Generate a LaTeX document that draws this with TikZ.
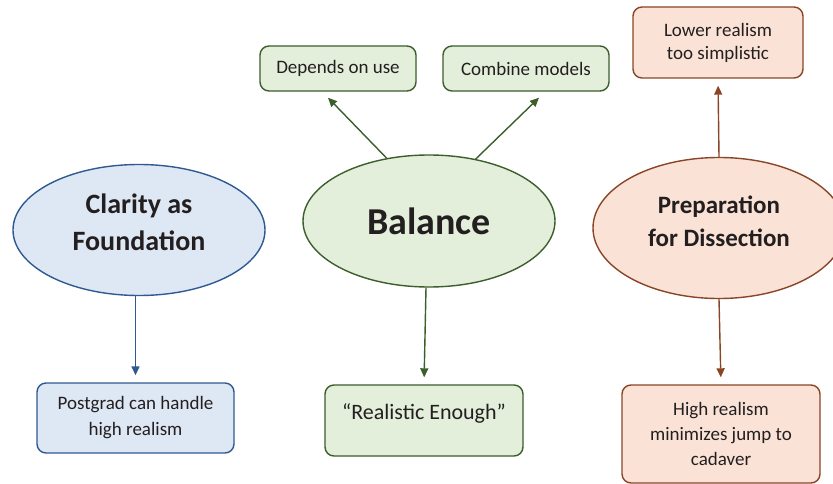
\documentclass[tikz,border=0pt]{standalone}
\usepackage{fontspec}
\setmainfont{Carlito}
\usetikzlibrary{shapes.geometric,arrows.meta,calc}
\definecolor{bfill}{HTML}{DEE7F4}
\definecolor{bline}{HTML}{2F5A91}
\definecolor{gfill}{HTML}{E3EFDA}
\definecolor{gline}{HTML}{3B5E2B}
\definecolor{ofill}{HTML}{FAE3D6}
\definecolor{oline}{HTML}{8A4526}
\definecolor{txt}{HTML}{231F20}
\tikzset{
  oval/.style={ellipse, draw, line width=1.4pt, inner sep=0pt, align=center, text=txt, font=\bfseries},
  rbox/.style={rectangle, rounded corners=9pt, draw, line width=1.4pt, inner sep=0pt, align=center, text=txt},
  arr/.style={line width=1.4pt, -{Triangle[length=9pt,width=8pt]}, shorten >=7pt},
  blue/.style={fill=bfill, draw=bline},
  green/.style={fill=gfill, draw=gline},
  orange/.style={fill=ofill, draw=oline},
  lbl/.style={text=txt, inner sep=0pt, align=center}
}
\begin{document}
\begin{tikzpicture}[x=1pt,y=-1pt]
\useasboundingbox (0,0) rectangle (833,484);
\clip (0,0) rectangle (833,484);
% ellipses
\node[oval, blue, minimum width=252pt, minimum height=131pt] (clar) at (139,230) {};
\node[lbl, font=\fontsize{28}{37}\selectfont\bfseries] (clarlbl) at ($(clar.center)+(0,-8)$) {Clarity as\\Foundation};
\node[oval, green, minimum width=252pt, minimum height=132pt, font=\fontsize{38}{44}\selectfont\bfseries] (bal) at (429,221) {Balance};
\node[oval, orange, minimum width=252pt, minimum height=141pt] (prep) at (719,228) {};
\node[lbl, font=\fontsize{25}{33}\selectfont\bfseries] (preplbl) at ($(prep.center)+(0,-7)$) {Preparation\\for Dissection};
% boxes
\node[rbox, green, minimum width=156pt, minimum height=45pt, font=\fontsize{19}{23}\selectfont] (dep) at (338,68.5) {Depends on use};
\node[rbox, green, minimum width=166pt, minimum height=45pt, font=\fontsize{19}{23}\selectfont] (comb) at (526,68.5) {Combine models};
\node[rbox, orange, minimum width=170pt, minimum height=71pt, font=\fontsize{19}{23}\selectfont] (lower) at (718,42.5) {Lower realism\\too simplistic};
\node[rbox, blue, minimum width=197pt, minimum height=70pt, font=\fontsize{19}{26}\selectfont] (post) at (135.5,418) {Postgrad can handle\\high realism};
\node[rbox, green, minimum width=198pt, minimum height=71pt] (real) at (424,420.5) {};
\node[lbl, font=\fontsize{22}{26}\selectfont] (reallbl) at ($(real.center)+(0,-7)$) {“Realistic Enough”};
\node[rbox, orange, minimum width=198pt, minimum height=98pt, font=\fontsize{19}{25}\selectfont] (high) at (721,434) {High realism\\minimizes jump to\\cadaver};
% connectors
\draw[arr, bline] (post.north |- clar.south) -- (post.north);
\draw[arr, gline] ($(bal.south)+(-3,0)$) -- (real.north);
\draw[arr, oline] (prep.south) -- (high.north);
\draw[arr, oline] (prep.north) -- (lower.south);
\draw[arr, gline, shorten >=0pt] (bal.124) -- ($(dep.south)+(-10,6)$);
\draw[arr, gline, shorten >=0pt] (bal.53) -- ($(comb.south)+(13,6)$);
\end{tikzpicture}
\end{document}
